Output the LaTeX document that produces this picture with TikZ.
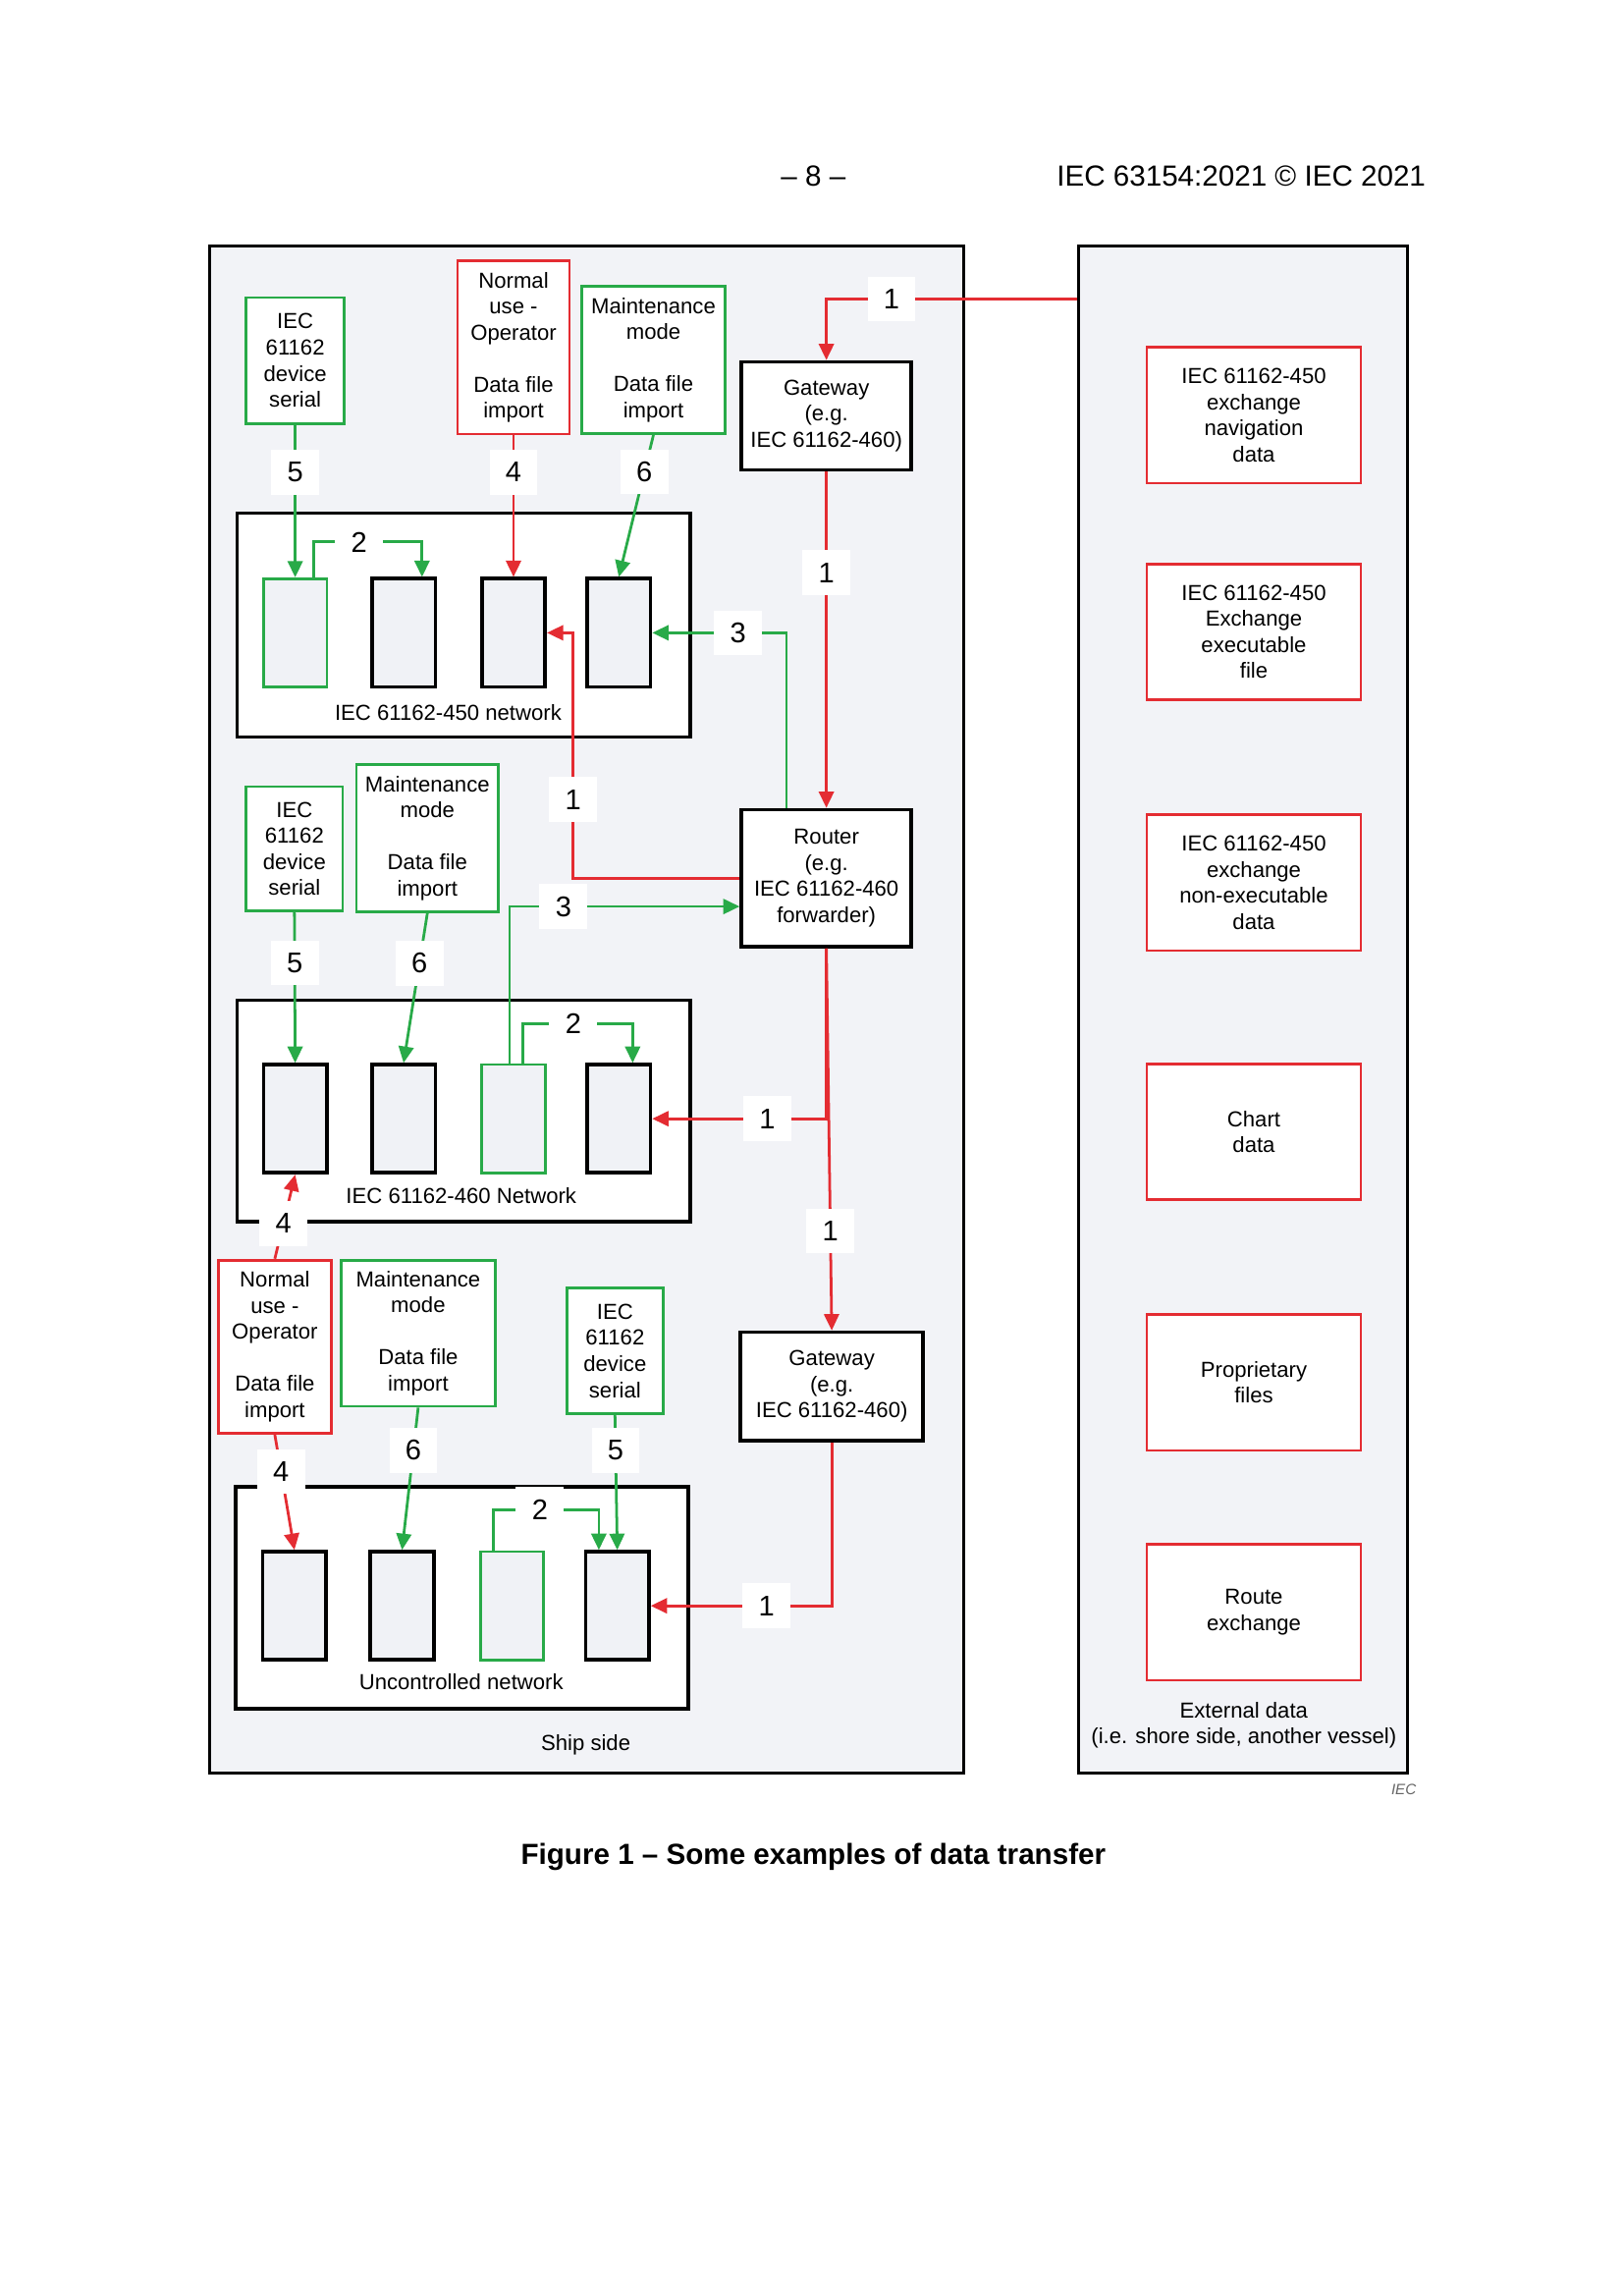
\documentclass[tikz,border=0pt]{standalone}
\usepackage{fontspec}
\setmainfont{Liberation Sans}
\usetikzlibrary{arrows.meta}
\definecolor{iecred}{RGB}{228,44,50}
\definecolor{iecgreen}{RGB}{40,170,72}
\definecolor{panel}{RGB}{242,243,247}
\definecolor{devfill}{RGB}{240,242,246}

\begin{document}
\begin{tikzpicture}[
    >={Triangle[length=6pt,width=5.5pt]},
    every node/.style={font=\fontsize{8}{9.6}\selectfont},
    sidebox/.style={draw, line width=1.1pt, fill=panel},
    netbox/.style={draw, line width=1.3pt, fill=white, minimum width=5.86cm, minimum height=2.87cm},
    dev/.style={draw, line width=1.3pt, fill=devfill, minimum width=0.82cm, minimum height=1.40cm},
    gdev/.style={dev, draw=iecgreen, line width=1pt},
    gbox/.style={draw=iecgreen, line width=1pt, fill=white, align=center, inner sep=1pt},
    rbox/.style={draw=iecred, line width=1pt, fill=white, align=center, inner sep=1pt},
    hub/.style={draw, line width=1.3pt, fill=white, align=center, minimum width=2.2cm},
    xbox/.style={draw=iecred, line width=1pt, fill=white, align=center, minimum width=2.77cm, minimum height=1.76cm},
    num/.style={fill=white, text=black, inner sep=0pt, minimum width=0.62cm, minimum height=0.58cm, font=\fontsize{10.5}{12}\selectfont},
    rflow/.style={iecred, line width=1pt, ->},
    gflow/.style={iecgreen, line width=1pt, ->},
  ]
    \path[use as bounding box, fill=white] (0,0) rectangle (21,29.7);

  \begin{scope}[shift={(0,0.161)}, scale=0.9946]
    % Page header
    \node[font=\fontsize{10.7}{12}\selectfont] (pageno) at (10.58,27.41) {– 8 –};
    \node[font=\fontsize{10.7}{12}\selectfont, anchor=east] (docref) at (18.67,27.41) {IEC 63154:2021 © IEC 2021};

    % Ship side and external data
    \node[sidebox, minimum width=9.76cm, minimum height=19.75cm] (ship) at (7.635,16.57) {};
    \node[sidebox, minimum width=4.26cm, minimum height=19.75cm] (ext) at (16.17,16.57) {};
    \node (shiptxt) at (7.62,7.00) {Ship side};
    \node[align=center] (exttxt) at (16.18,7.26) {External data\\(i.e. shore side, another vessel)};

    % External data sets
    \node[xbox] (xnav) at (16.31,24.30) {IEC 61162-450\\exchange\\navigation\\data};
    \node[xbox] (xexe) at (16.31,21.48) {IEC 61162-450\\Exchange\\executable\\file};
    \node[xbox] (xnon) at (16.31,18.22) {IEC 61162-450\\exchange\\non-executable\\data};
    \node[xbox] (xchart) at (16.31,14.98) {Chart\\data};
    \node[xbox] (xprop) at (16.31,11.72) {Proprietary\\files};
    \node[xbox] (xroute) at (16.31,8.73) {Route\\exchange};

    % Networks
    \node[netbox, minimum height=2.9cm] (netA) at (6.03,21.57) {};
    \node[netbox] (netB) at (6.03,15.25) {};
    \node[netbox] (netC) at (6.01,8.92) {};
    \node (lblA) at (5.83,20.43) {IEC 61162-450 network};
    \node (lblB) at (6.00,14.15) {IEC 61162-460 Network};
    \node (lblC) at (6.00,7.82) {Uncontrolled network};

    % Devices
    \node[gdev] (dA1) at (3.84,21.47) {};
    \node[dev] (dA2) at (5.25,21.47) {};
    \node[dev] (dA3) at (6.68,21.47) {};
    \node[dev] (dA4) at (8.05,21.47) {};
    \node[dev] (dB1) at (3.84,15.15) {};
    \node[dev] (dB2) at (5.25,15.15) {};
    \node[gdev] (dB3) at (6.68,15.15) {};
    \node[dev] (dB4) at (8.05,15.15) {};
    \node[dev] (dC1) at (3.83,8.815) {};
    \node[dev] (dC2) at (5.23,8.815) {};
    \node[gdev] (dC3) at (6.66,8.815) {};
    \node[dev] (dC4) at (8.03,8.815) {};

    % Sources, top
    \node[gbox, minimum width=1.27cm, minimum height=1.63cm] (serA) at (3.84,25.01) {IEC\\61162\\device\\serial};
    \node[rbox, minimum width=1.45cm, minimum height=2.24cm] (normA) at (6.68,25.18) {Normal\\use -\\Operator\\[9.5pt]Data file\\import};
    \node[gbox, minimum width=1.85cm, minimum height=1.91cm] (mntA) at (8.50,25.02) {Maintenance\\mode\\[9.5pt]Data file\\import};
    \node[hub, minimum height=1.40cm] (gwA) at (10.75,24.29) {Gateway\\(e.g.\\IEC 61162-460)};

    % Sources, middle
    \node[gbox, minimum width=1.25cm, minimum height=1.61cm] (serB) at (3.83,18.66) {IEC\\61162\\device\\serial};
    \node[gbox, minimum width=1.84cm, minimum height=1.90cm] (mntB) at (5.56,18.80) {Maintenance\\mode\\[9.5pt]Data file\\import};
    \node[hub, minimum height=1.77cm] (router) at (10.75,18.28) {Router\\(e.g.\\IEC 61162-460\\forwarder)};

    % Sources, bottom
    \node[rbox, minimum width=1.46cm, minimum height=2.24cm] (normC) at (3.575,12.185) {Normal\\use -\\Operator\\[9.5pt]Data file\\import};
    \node[gbox, minimum width=1.99cm, minimum height=1.89cm] (mntC) at (5.44,12.36) {Maintenance\\mode\\[9.5pt]Data file\\import};
    \node[gbox, minimum width=1.24cm, minimum height=1.63cm] (serC) at (8.00,12.13) {IEC\\61162\\device\\serial};
    \node[hub, minimum width=2.36cm, minimum height=1.40cm] (gwB) at (10.82,11.67) {Gateway\\(e.g.\\IEC 61162-460)};

    % Transfers, top
    \coordinate (extport) at (ext.west |- 0,25.81);
    \draw[rflow] (extport) -| node[num, pos=0.37] (n1a) {1} (gwA.north);
    \draw[rflow] (gwA.south) -- node[num, pos=0.30] (n1b) {1} (router.north);
    \draw[gflow] (serA.south) -- node[num, pos=0.31] (n5a) {5} (dA1.north);
    \draw[rflow] (normA.south) -- node[num, pos=0.26] (n4a) {4} (dA3.north);
    \draw[gflow] (mntA.south) -- node[num, pos=0.26] (n6a) {6} (dA4.north);
    \draw[gflow] ([xshift=2.4mm]dA1.north) -- ++(0,0.46)
          -| node[num, pos=0.21] (n2a) {2} ([xshift=2.4mm]dA2.north);
    \draw[gflow] ([xshift=-5.2mm]router.north) |- node[num, pos=0.68] (n3a) {3} (dA4.east);
    \draw[rflow] (router.west) -| node[num, pos=0.66] (n1c) {1} ([xshift=3.4mm]dA3.east) -- (dA3.east);

    % Transfers, middle
    \draw[gflow] (serB.south) -- node[num, pos=0.335] (n5b) {5} (dB1.north);
    \draw[gflow] (mntB.south) -- node[num, pos=0.335] (n6b) {6} (dB2.north);
    \draw[gflow] ([xshift=-0.5mm]dB3.north) |- node[num, pos=0.617] (n3b) {3} ([yshift=-3.7mm]router.west);
    \draw[gflow] ([xshift=1.2mm]dB3.north) -- ++(0,0.51)
          -| node[num, pos=0.23] (n2b) {2} ([xshift=1.8mm]dB4.north);
    \draw[rflow] (router.south) |- node[num, pos=0.67] (n1d) {1} (dB4.east);
    \draw[rflow] (router.south) -- node[num, pos=0.74] (n1e) {1} (gwB.north);
    \draw[rflow] (normC.north) -- node[num, pos=0.42] (n4b) {4} (dB1.south);

    % Transfers, bottom
    \draw[rflow] (normC.south) -- node[num, pos=0.32] (n4c) {4} (dC1.north);
    \draw[gflow] (mntC.south) -- node[num, pos=0.30] (n6c) {6} (dC2.north);
    \draw[gflow] (serC.south) -- node[num, pos=0.26] (n5c) {5} (dC4.north);
    \draw[gflow] ([xshift=-2.4mm]dC3.north) -- ++(0,0.53)
          -| node[num, pos=0.22] (n2c) {2} ([xshift=-2.4mm]dC4.north);
    \draw[rflow] (gwB.south) |- node[num, pos=0.68] (n1f) {1} (dC4.east);

    % Figure label
    \node[font=\itshape\fontsize{5.5}{6}\selectfont, text=black!60] (iecmark) at (18.26,6.43) {IEC};
    \node[font=\bfseries\fontsize{10.7}{12}\selectfont] (caption) at (10.58,5.55) {Figure 1 – Some examples of data transfer};
  \end{scope}
\end{tikzpicture}
\end{document}
